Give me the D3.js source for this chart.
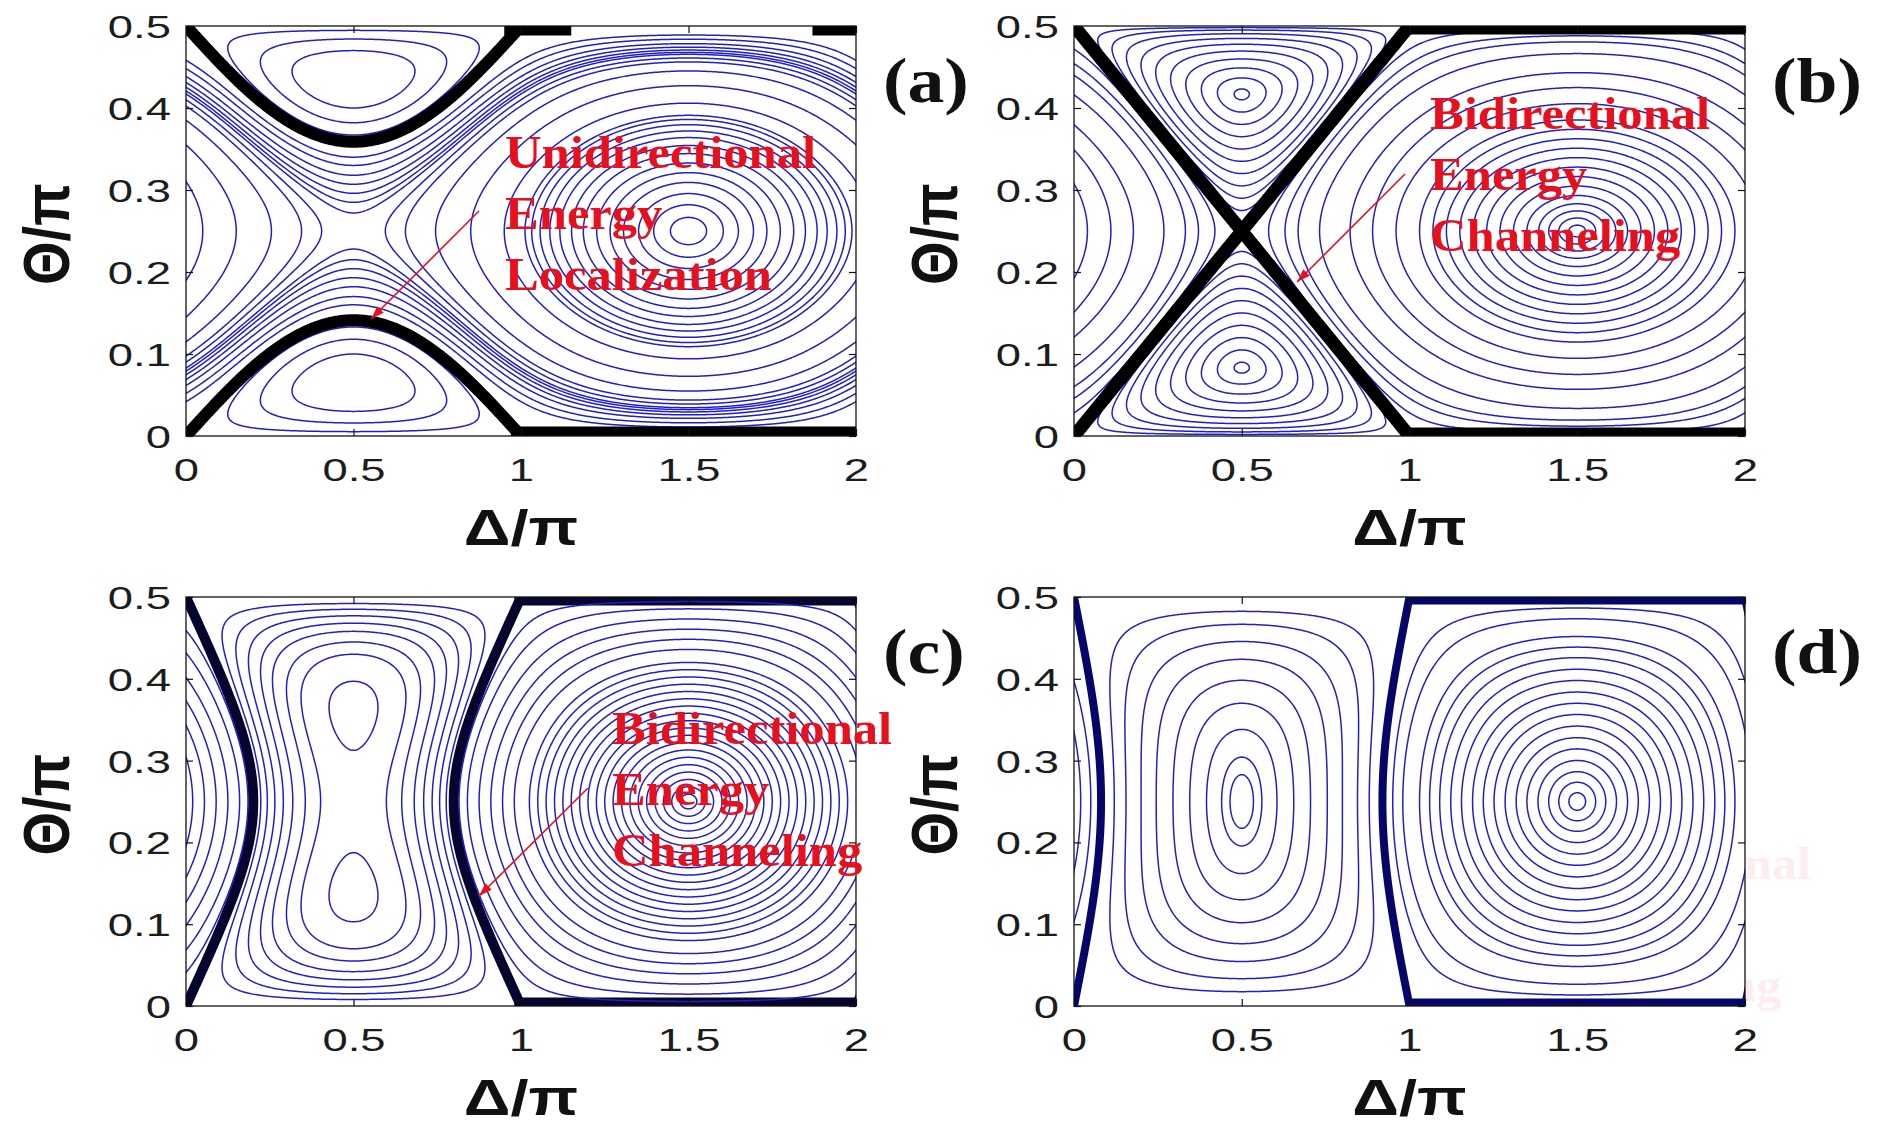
<!DOCTYPE html>
<html>
<head>
<meta charset="utf-8">
<script src="https://cdn.jsdelivr.net/npm/d3@7"></script>
<style>
  body{margin:0;background:#fff;}
  svg{display:block;}
</style>
</head>
<body>
<svg id="fig" width="1889" height="1127"></svg>
<script>
var panelIds = ["a", "b", "c", "d"];
var kParam = [2.4, 2.0, 1.21, 0.65];
var mParam = [0.18, 0.0, 0.10, 0.17];

// Δ/π where a ring crosses Θ/π = 0.25 to the right of the Δ/π = 1.5 centre
var ringSeedsA = [1.554, 1.604, 1.649, 1.694, 1.734, 1.774, 1.814, 1.849, 1.884, 1.914, 1.943, 1.968, 1.988];
var ringSeedsB = [1.525, 1.555, 1.585, 1.615, 1.65, 1.69, 1.73, 1.77, 1.81, 1.85, 1.89, 1.93, 1.97];
var ringSeedsC = [1.525, 1.55, 1.575, 1.6, 1.625, 1.65, 1.675, 1.70, 1.725, 1.75, 1.775, 1.80, 1.825, 1.85, 1.875, 1.90, 1.925, 1.95, 1.975];
var ringSeedsD = [1.525, 1.555, 1.585, 1.617, 1.65, 1.682, 1.715, 1.748, 1.78, 1.812, 1.845, 1.877, 1.91, 1.94, 1.97];

// Δ/π where a curve crosses Θ/π = 0.25 between 0 and 0.5
var sideSeedsA = [0.05, 0.15, 0.255, 0.345, 0.405];
var sideSeedsB = [0.04, 0.11, 0.177, 0.268, 0.332, 0.371, 0.42];
var sideSeedsC = [0.02, 0.055, 0.09, 0.125, 0.16, 0.185];
var sideSeedsD = [0.02, 0.05, 0.12, 0.155, 0.2, 0.245, 0.295, 0.345, 0.395, 0.44, 0.465];

// Θ/π where a curve crosses Δ/π = 0.5 (islands, hyperbolas, lobes)
var centerSeedsA = [0.10, 0.118, 0.133, 0.16, 0.17, 0.182, 0.193, 0.204, 0.215, 0.228];
var centerSeedsB = [0.09, 0.105, 0.12, 0.135, 0.15, 0.165, 0.18, 0.195, 0.21, 0.225];
var centerSeedsC = [0.397, 0.43, 0.445, 0.458, 0.468, 0.477, 0.485, 0.492];
var centerSeedsD = [];

// thick LPT runs lying on the frame: [Θ/π, Δ/π from, Δ/π to]
var edgeRunsA = [[0, 0.97, 2], [0.5, 0.95, 1.15], [0.5, 1.87, 2]];
var edgeRunsB = [[0, 1, 2], [0.5, 1, 2]];
var edgeRunsC = [[0, 0.98, 2], [0.5, 0.98, 2]];
var edgeRunsD = [[0, 1, 2], [0.5, 1, 2]];

var xTicks = [0, 0.5, 1, 1.5, 2];
var yTicks = [0, 0.1, 0.2, 0.3, 0.4, 0.5];

var notesA = ["Unidirectional", "Energy", "Localization"];
var notesB = ["Bidirectional", "Energy", "Channeling"];
var notesC = ["Bidirectional", "Energy", "Channeling"];

var ringSeeds = [ringSeedsA, ringSeedsB, ringSeedsC, ringSeedsD];
var sideSeeds = [sideSeedsA, sideSeedsB, sideSeedsC, sideSeedsD];
var centerSeeds = [centerSeedsA, centerSeedsB, centerSeedsC, centerSeedsD];
var edgeRuns = [edgeRunsA, edgeRunsB, edgeRunsC, edgeRunsD];
var notes = [notesA, notesB, notesC, null];

// layout
var frames = [
  {x0: 186, x1: 856, yt: 26, yb: 436},
  {x0: 1074, x1: 1745, yt: 26, yb: 436},
  {x0: 186, x1: 856, yt: 597, yb: 1006},
  {x0: 1074, x1: 1745, yt: 597, yb: 1006}
];
var looks = [
  {lpt: "#000", lptW: 12, edgeW: 19, lptTop: true},
  {lpt: "#000", lptW: 13, edgeW: 17, lptTop: true},
  {lpt: "#05052e", lptW: 10, edgeW: 17, lptTop: false},
  {lpt: "#06066a", lptW: 8, edgeW: 15, lptTop: false}
];
var noteSpots = [
  {x: 505, y: 168, from: [479, 211], to: [371, 319]},
  {x: 1430, y: 129, from: [1405, 174], to: [1297, 282]},
  {x: 612, y: 744, from: [588, 788], to: [479, 896]},
  null
];

var blue = "#2020c8";
var PI = Math.PI;

// slow-flow energy in (Δ, Θ)
function energy(k, m, d, t){
  var s = Math.sin(2*t), c = Math.cos(2*t);
  return s*Math.sin(d) + k/2*c*c + m/2*s*s*Math.cos(2*d);
}
// zero set = the limiting phase trajectory that leaves Θ = 0
function lptGap(k, m, d, t){
  var s = Math.sin(2*t);
  return Math.sin(d) - s/2*(k - m*Math.cos(2*d));
}

var svg = d3.select("#fig");
svg.append("rect").attr("width", 1889).attr("height", 1127).attr("fill", "#fff");

var defs = svg.append("defs");
defs.append("marker").attr("id", "head")
  .attr("viewBox", "0 0 12 8").attr("refX", 12).attr("refY", 4)
  .attr("markerWidth", 14).attr("markerHeight", 9)
  .attr("markerUnits", "userSpaceOnUse").attr("orient", "auto")
  .append("path").attr("d", "M0,0 L12,4 L0,8 Z").attr("fill", "#e8101c");

// faint ghost of a fading caption next to panel (d)
var ghost = svg.append("g").attr("fill", "#e8101c").attr("opacity", 0.07)
  .attr("font-family", "'Liberation Serif','Times New Roman',serif").attr("font-weight", "bold").attr("font-size", 46);
["Bidirectional", "Energy", "Channeling"].forEach(function(t, i){
  ghost.append("text").attr("transform", "translate(1531," + (879 + 61*i) + ") scale(1.1,1)").text(t);
});

var d0 = -0.04, d1 = 2.04, dd = 0.004;
var t0 = -0.02, t1 = 0.52, dt = 0.0015;
var nx = Math.round((d1 - d0)/dd) + 1;
var ny = Math.round((t1 - t0)/dt) + 1;

function stretched(sel, x, y, str, sx, extra){
  return sel.append("text")
    .attr("transform", "translate(" + x + "," + y + ") scale(" + sx + ",1)" + (extra || ""))
    .text(str);
}

panelIds.forEach(function(id, p){
  var f = frames[p], lk = looks[p], k = kParam[p], m = mParam[p];
  var xs = d3.scaleLinear().domain([0, 2]).range([f.x0, f.x1]);
  var ys = d3.scaleLinear().domain([0, 0.5]).range([f.yb, f.yt]);

  var g = svg.append("g").attr("class", "panel-" + id);
  defs.append("clipPath").attr("id", "clip-" + id)
    .append("rect").attr("x", f.x0).attr("y", f.yt).attr("width", f.x1 - f.x0).attr("height", f.yb - f.yt);
  g.append("rect").attr("x", f.x0).attr("y", f.yt).attr("width", f.x1 - f.x0).attr("height", f.yb - f.yt).attr("fill", "#fff");

  // sample the field on a grid slightly larger than the frame
  var H = new Float64Array(nx*ny), G = new Float64Array(nx*ny);
  for (var j = 0; j < ny; j++){
    var t = (t0 + j*dt)*PI;
    for (var i = 0; i < nx; i++){
      var d = (d0 + i*dd)*PI;
      H[j*nx + i] = energy(k, m, d, t);
      G[j*nx + i] = lptGap(k, m, d, t);
    }
  }

  var levels = [];
  ringSeeds[p].forEach(function(v){ levels.push(energy(k, m, v*PI, PI/4)); });
  sideSeeds[p].forEach(function(v){ levels.push(energy(k, m, v*PI, PI/4)); });
  centerSeeds[p].forEach(function(v){ levels.push(energy(k, m, PI/2, v*PI)); });
  levels.sort(d3.ascending);

  var grid = d3.geoTransform({point: function(px, py){
    this.stream.point(xs(d0 + (px - 0.5)*dd), ys(t0 + (py - 0.5)*dt));
  }});
  var path = d3.geoPath(grid);

  var plot = g.append("g").attr("clip-path", "url(#clip-" + id + ")");

  function drawLpt(){
    var lpt = d3.contours().size([nx, ny]).thresholds([0])(G);
    plot.append("path").attr("d", path(lpt[0]))
      .attr("fill", "none").attr("stroke", lk.lpt).attr("stroke-width", lk.lptW)
      .attr("stroke-linejoin", "round");
    plot.selectAll("line.edge").data(edgeRuns[p]).join("line").attr("class", "edge")
      .attr("x1", function(r){ return xs(r[1]); }).attr("x2", function(r){ return xs(r[2]); })
      .attr("y1", function(r){ return ys(r[0]); }).attr("y2", function(r){ return ys(r[0]); })
      .attr("stroke", lk.lpt).attr("stroke-width", lk.edgeW);
  }

  if (!lk.lptTop) drawLpt();
  var rings = d3.contours().size([nx, ny]).thresholds(levels)(H);
  plot.selectAll("path.orbit").data(rings).join("path").attr("class", "orbit")
    .attr("d", path).attr("fill", "none").attr("stroke", blue).attr("stroke-width", 1.5);
  if (lk.lptTop) drawLpt();

  // frame with inward ticks on all four sides
  g.append("rect").attr("x", f.x0).attr("y", f.yt).attr("width", f.x1 - f.x0).attr("height", f.yb - f.yt)
    .attr("fill", "none").attr("stroke", "#111").attr("stroke-width", 1.3);

  var fmt = d3.format("~g");
  var bx = g.append("g").attr("transform", "translate(0," + f.yb + ")")
    .call(d3.axisBottom(xs).tickValues(xTicks).tickSize(-7).tickSizeOuter(0).tickFormat(fmt));
  var tx = g.append("g").attr("transform", "translate(0," + f.yt + ")")
    .call(d3.axisTop(xs).tickValues(xTicks).tickSize(-7).tickSizeOuter(0).tickFormat(""));
  var ly = g.append("g").attr("transform", "translate(" + f.x0 + ",0)")
    .call(d3.axisLeft(ys).tickValues(yTicks).tickSize(-7).tickSizeOuter(0).tickFormat(fmt));
  var ry = g.append("g").attr("transform", "translate(" + f.x1 + ",0)")
    .call(d3.axisRight(ys).tickValues(yTicks).tickSize(-7).tickSizeOuter(0).tickFormat(""));
  [bx, tx, ly, ry].forEach(function(a){
    a.select(".domain").remove();
    a.selectAll(".tick line").attr("stroke", "#111").attr("stroke-width", 1.2);
    a.attr("font-family", "'Liberation Sans',Arial,sans-serif").attr("font-size", 32);
  });
  bx.selectAll(".tick text").attr("y", null).attr("dy", null).attr("fill", "#1c1c1c")
    .attr("transform", "translate(0,45) scale(1.42,1)");
  ly.selectAll(".tick text").attr("x", null).attr("dy", "0.36em").attr("fill", "#1c1c1c")
    .attr("transform", "translate(-15,0) scale(1.42,1)");

  // axis titles
  var bold = g.append("g").attr("font-family", "'Liberation Sans',Arial,sans-serif")
    .attr("font-weight", "bold").attr("fill", "#111");
  stretched(bold, (f.x0 + f.x1)/2, f.yb + 109, "\u0394/\u03c0", 1.3).attr("font-size", 50).attr("text-anchor", "middle");
  stretched(bold, f.x0 - 117, (f.yt + f.yb)/2 + 3, "\u0398/\u03c0", 1.15, " rotate(-90)").attr("font-size", 56).attr("text-anchor", "middle");

  // panel letter
  g.append("text").attr("font-family", "'Liberation Serif','Times New Roman',serif")
    .attr("font-weight", "bold").attr("font-size", 64).attr("fill", "#111")
    .attr("transform", "translate(" + (f.x1 + 27) + "," + (f.yt + 76) + ") scale(1.15,1)")
    .text("(" + id + ")");

  // red caption with arrow
  var spot = noteSpots[p];
  if (spot){
    var cap = g.append("g").attr("fill", "#e8101c")
      .attr("font-family", "'Liberation Serif','Times New Roman',serif")
      .attr("font-weight", "bold").attr("font-size", 46);
    notes[p].forEach(function(t, i){ stretched(cap, spot.x, spot.y + 61*i, t, 1.1); });
    g.append("line").attr("x1", spot.from[0]).attr("y1", spot.from[1])
      .attr("x2", spot.to[0]).attr("y2", spot.to[1])
      .attr("stroke", "#e8101c").attr("stroke-width", 1.6).attr("marker-end", "url(#head)");
  }
});
</script>
</body>
</html>
